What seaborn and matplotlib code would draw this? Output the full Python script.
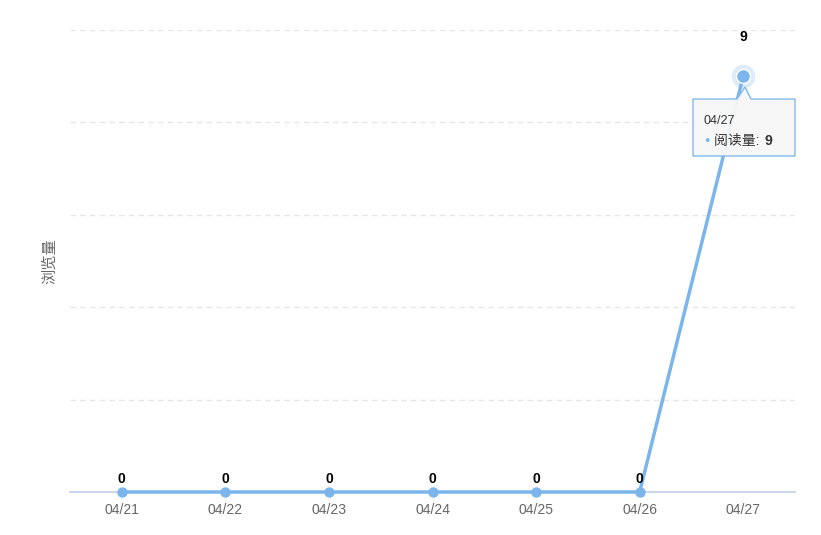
import pandas as pd
import seaborn as sns
import matplotlib.pyplot as plt
from matplotlib.patches import Polygon

# données
dates = ["04/21", "04/22", "04/23", "04/24", "04/25", "04/26", "04/27"]
views = [0, 0, 0, 0, 0, 0, 9]
series_name = "阅读量"
y_label = "浏览量"

line_color = "#7cb5ec"

sns.set_theme(style="white")
plt.rcParams["font.family"] = ["Liberation Sans", "Noto Sans CJK SC", "DejaVu Sans"]

df = pd.DataFrame({"date": dates, "views": views})
df["pos"] = range(len(df))

fig = plt.figure(figsize=(8.21, 5.35), dpi=100)
ax = fig.add_axes([70 / 821, 43 / 535, 725 / 821, 462 / 535])

sns.lineplot(data=df, x="pos", y="views", ax=ax, color=line_color, linewidth=2.5,
             marker="o", markersize=7.5, markeredgewidth=0, zorder=3, clip_on=False)

# point survolé (halo)
last = df.iloc[-1]
ax.plot(last["pos"], last["views"], "o", ms=17, color=line_color, alpha=0.25, mew=0, zorder=4, clip_on=False)
ax.plot(last["pos"], last["views"], "o", ms=10, color=line_color, mec="white", mew=1, zorder=5, clip_on=False)

# étiquettes de données (celle du point survolé est décalée plus haut)
for i, (x, y) in enumerate(zip(df["pos"], df["views"])):
    dy = 23 if i == len(df) - 1 else 4
    ax.annotate(str(y), (x, y), xytext=(0, dy), textcoords="offset points",
                ha="center", va="bottom", fontsize=10, fontweight="bold", color="black", zorder=6)

ax.set_xlim(-0.5, len(dates) - 0.5)
ax.set_ylim(0, 10)
ax.set_yticks([0, 2, 4, 6, 8, 10])
ax.set_yticklabels([])
ax.set_xticks(df["pos"])
ax.set_xticklabels(dates, color="#666666", fontsize=10)
ax.tick_params(axis="x", length=0, pad=8)
ax.tick_params(axis="y", length=0)
ax.grid(axis="y", color="#e6e6e6", linestyle=(0, (4, 3)), linewidth=1)
ax.set_xlabel("")
ax.set_ylabel(y_label, color="#666666", fontsize=11, labelpad=6)
for side in ["top", "right", "left"]:
    ax.spines[side].set_visible(False)
ax.spines["bottom"].set_color("#ccd6eb")
ax.spines["bottom"].set_linewidth(1.5)
ax.spines["bottom"].set_zorder(2)

# infobulle (cadre avec pointe)
W, H = 821, 535
def fp(px, py):
    return (px / W, 1 - py / H)

outline = [fp(693, 99), fp(737, 99), fp(745, 87), fp(751, 99), fp(795, 99),
           fp(795, 156), fp(693, 156)]
tip = Polygon(outline, closed=True, transform=fig.transFigure, facecolor="#f7f7f7",
              edgecolor=line_color, linewidth=1, alpha=0.95, zorder=10, joinstyle="round")
fig.patches.append(tip)
fig.text(703 / W, 1 - 121 / H, last["date"], fontsize=9, color="#333333", va="center", zorder=12)
fig.text(704 / W, 1 - 141 / H, "●", fontsize=6.5, color=line_color, va="center", zorder=12)
name_txt = fig.text(714 / W, 1 - 141 / H, f"{series_name}: ", fontsize=10, color="#333333",
                    va="center", zorder=12)
fig.canvas.draw()
bb = name_txt.get_window_extent()
fig.text(bb.x1 / W + 1 / W, 1 - 141 / H, str(last["views"]), fontsize=10, fontweight="bold",
         color="#333333", va="center", zorder=12)

fig.savefig("out.png", dpi=100)
